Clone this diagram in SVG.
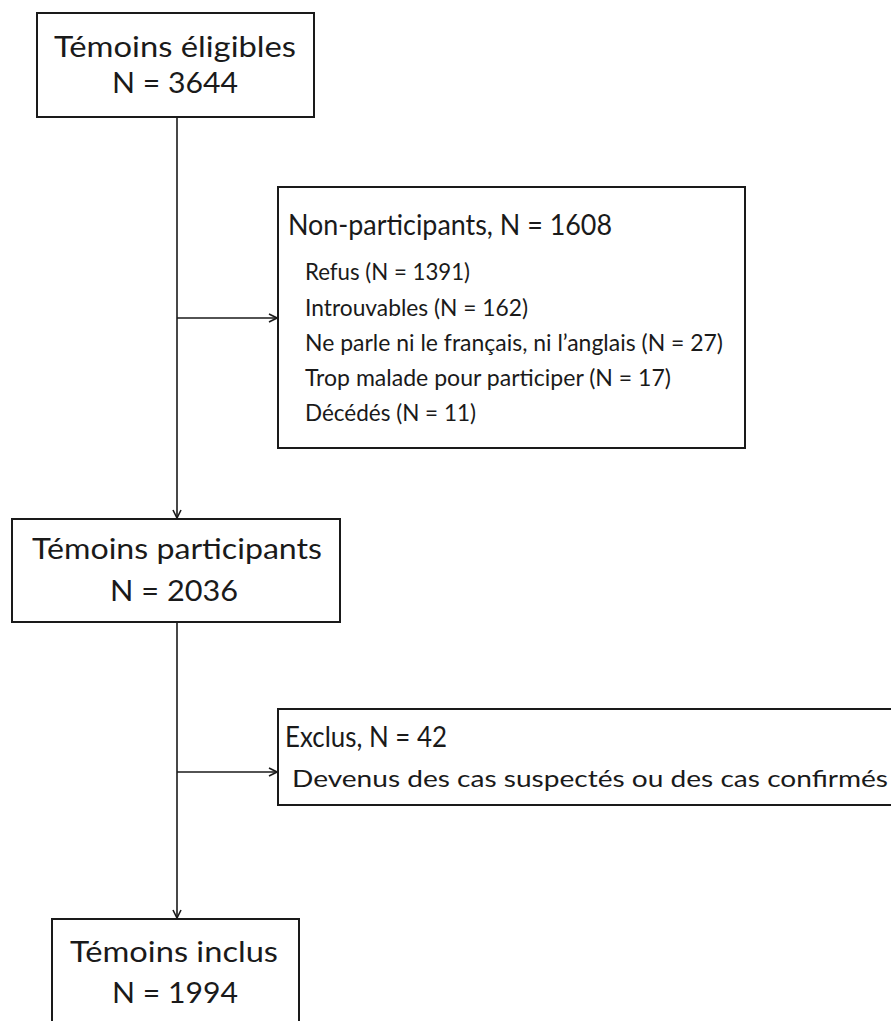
<svg xmlns="http://www.w3.org/2000/svg" width="891" height="1021" viewBox="0 0 891 1021">
<style>
.box{fill:#fff;stroke:#1a1a1a;stroke-width:2}
.t{font-family:Lato,"Open Sans","Liberation Sans",sans-serif;fill:#1a1a1a}
.big{font-size:29px}
.small{font-size:23px}
.c{stroke:#1a1a1a;stroke-width:1.6;fill:none}
</style>
<defs>
<marker id="arr" viewBox="0 0 10 10" refX="9" refY="5" markerWidth="10" markerHeight="10" markerUnits="userSpaceOnUse" orient="auto">
<path d="M1,1 L9,5 L1,9" fill="none" stroke="#1a1a1a" stroke-width="1.6"/>
</marker>
</defs>
<rect width="891" height="1021" fill="#fff"/>
<g id="connectors">
<path class="c" d="M177,117 V518" marker-end="url(#arr)"/>
<path class="c" d="M177,318 H277" marker-end="url(#arr)"/>
<path class="c" d="M177,622 V918" marker-end="url(#arr)"/>
<path class="c" d="M177,772 H277" marker-end="url(#arr)"/>
</g>
<g id="eligibles">
<rect class="box" x="37" y="13" width="277" height="104"/>
<text class="t big" x="54" y="57" textLength="242" lengthAdjust="spacingAndGlyphs">Témoins éligibles</text>
<text class="t big" x="112" y="93" textLength="126" lengthAdjust="spacingAndGlyphs">N = 3644</text>
</g>
<g id="nonparticipants">
<rect class="box" x="278" y="187" width="467" height="261"/>
<text class="t big" x="288" y="235" textLength="324" lengthAdjust="spacingAndGlyphs">Non-participants, N = 1608</text>
<text class="t small" x="305" y="280" textLength="165" lengthAdjust="spacingAndGlyphs">Refus (N = 1391)</text>
<text class="t small" x="305" y="316" textLength="223" lengthAdjust="spacingAndGlyphs">Introuvables (N = 162)</text>
<text class="t small" x="305" y="351" textLength="418" lengthAdjust="spacingAndGlyphs">Ne parle ni le français, ni l’anglais (N = 27)</text>
<text class="t small" x="305" y="386" textLength="366" lengthAdjust="spacingAndGlyphs">Trop malade pour participer (N = 17)</text>
<text class="t small" x="305" y="421" textLength="171" lengthAdjust="spacingAndGlyphs">Décédés (N = 11)</text>
</g>
<g id="participants">
<rect class="box" x="12" y="519" width="328" height="103"/>
<text class="t big" x="32" y="559" textLength="290" lengthAdjust="spacingAndGlyphs">Témoins participants</text>
<text class="t big" x="110" y="601" textLength="128" lengthAdjust="spacingAndGlyphs">N = 2036</text>
</g>
<g id="exclus">
<rect class="box" x="278" y="709" width="620" height="96"/>
<text class="t big" x="285" y="747" textLength="162" lengthAdjust="spacingAndGlyphs">Exclus, N = 42</text>
<text class="t small" x="292" y="787" textLength="596" lengthAdjust="spacingAndGlyphs">Devenus des cas suspectés ou des cas confirmés</text>
</g>
<g id="inclus">
<rect class="box" x="52" y="919" width="247" height="120"/>
<text class="t big" x="70" y="962" textLength="208" lengthAdjust="spacingAndGlyphs">Témoins inclus</text>
<text class="t big" x="112" y="1003" textLength="126" lengthAdjust="spacingAndGlyphs">N = 1994</text>
</g>
</svg>
